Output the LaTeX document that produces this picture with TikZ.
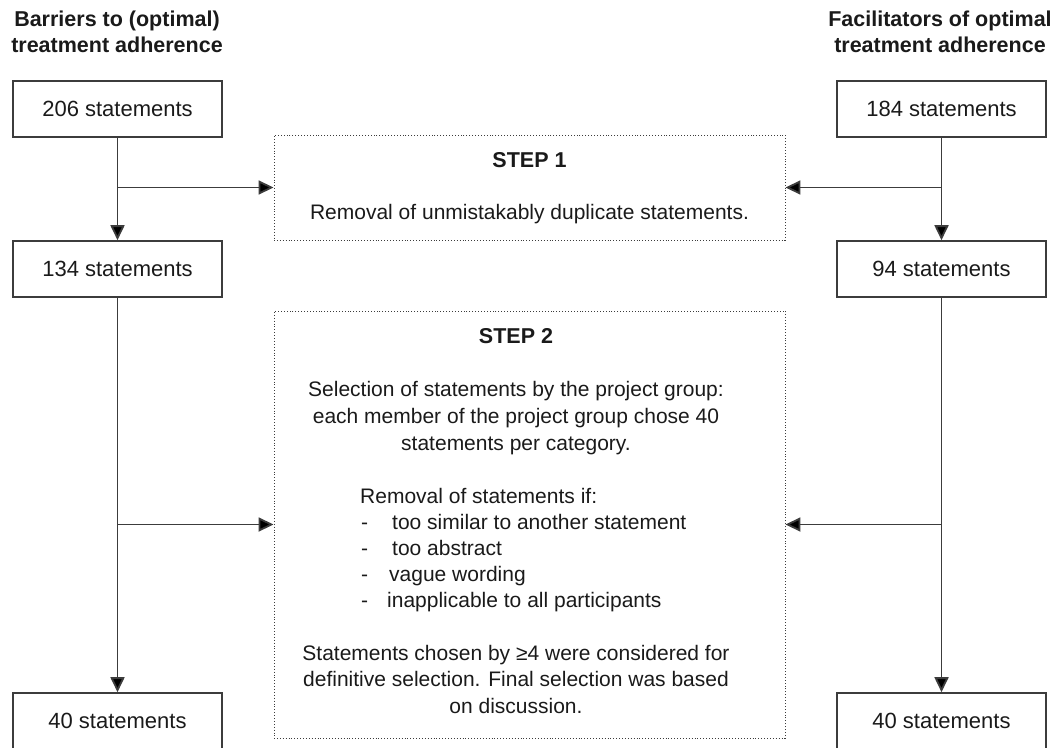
\documentclass[tikz,border=0pt]{standalone}
\usepackage{fontspec}
\setmainfont{Liberation Sans}
\usetikzlibrary{arrows.meta}
\definecolor{ink}{HTML}{1A1A1A}
\definecolor{linec}{HTML}{3C3C3C}
\tikzset{
  txt/.style={font=\fontsize{21}{26}\selectfont, text=ink, inner sep=0pt, anchor=mid},
  hdr/.style={font=\fontsize{21.5}{26}\selectfont\bfseries, text=ink, inner sep=0pt, anchor=mid},
  countbox/.style={draw=linec, line width=1.6pt, minimum width=209pt, minimum height=56pt, inner sep=0pt, font=\fontsize{22}{26}\selectfont, text=ink},
  stepbox/.style={draw=linec, line width=0.9pt, dotted, inner sep=0pt},
  conn/.style={draw=linec, line width=1.8pt},
  arr/.style={conn, -{Triangle[length=15pt,width=14pt,fill=black]}}
}
\begin{document}
\begin{tikzpicture}[x=1pt,y=-1pt]
\useasboundingbox (0,0) rectangle (1057,747);
% headers
\node[hdr] (hl1) at (117,24) {Barriers to (optimal)};
\node[hdr] (hl2) at (117,50) {treatment adherence};
\node[hdr] (hr1) at (940,24) {Facilitators of optimal};
\node[hdr] (hr2) at (940,50) {treatment adherence};
% count boxes
\node[countbox] (l1) at (117.5,109) {206 statements};
\node[countbox] (r1) at (941.5,109) {184 statements};
\node[countbox] (l2) at (117.5,269) {134 statements};
\node[countbox] (r2) at (941.5,269) {94 statements};
\node[countbox] (l3) at (117.5,721) {40 statements};
\node[countbox] (r3) at (941.5,721) {40 statements};
% step boxes
\node[stepbox, minimum width=511pt, minimum height=105pt] (s1) at (529.5,187.5) {};
\node[stepbox, minimum width=511pt, minimum height=427pt] (s2) at (529.5,524.5) {};
% step 1 text
\node[hdr] (s1t) at (529.5,165) {STEP 1};
\node[txt] (s1a) at (529.5,217) {Removal of unmistakably duplicate statements.};
% step 2 text
\node[hdr] (s2t) at (516,341) {STEP 2};
\node[txt] (s2a) at (516,394) {Selection of statements by the project group:};
\node[txt] (s2b) at (516,421) {each member of the project group chose 40};
\node[txt] (s2c) at (516,448) {statements per category.};
\node[txt, anchor=mid west] (s2d) at (360,501) {Removal of statements if:};
\node[txt, anchor=mid west] (d1) at (361,527) {-};
\node[txt, anchor=mid west] (i1) at (392,527) {too similar to another statement};
\node[txt, anchor=mid west] (d2) at (361,553) {-};
\node[txt, anchor=mid west] (i2) at (392,553) {too abstract};
\node[txt, anchor=mid west] (d3) at (361,579) {-};
\node[txt, anchor=mid west] (i3) at (389,579) {vague wording};
\node[txt, anchor=mid west] (d4) at (361,605) {-};
\node[txt, anchor=mid west] (i4) at (387,605) {inapplicable to all participants};
\node[txt] (s2e) at (516,658) {Statements chosen by ≥4 were considered for};
\node[txt] (s2f) at (516,684) {definitive selection. Final selection was based};
\node[txt] (s2g) at (516,711) {on discussion.};
% connectors
\draw[arr] (l1.south) -- (l2.north);
\draw[arr] (r1.south) -- (r2.north);
\draw[arr] (l2.south) -- (l3.north);
\draw[arr] (r2.south) -- (r3.north);
\coordinate (bl1) at (l1.south |- s1.west);
\coordinate (br1) at (r1.south |- s1.east);
\coordinate (bl2) at (l2.south |- s2.west);
\coordinate (br2) at (r2.south |- s2.east);
\draw[arr] (bl1) -- (s1.west);
\draw[arr] (br1) -- (s1.east);
\draw[arr] (bl2) -- (s2.west);
\draw[arr] (br2) -- (s2.east);
\end{tikzpicture}
\end{document}
